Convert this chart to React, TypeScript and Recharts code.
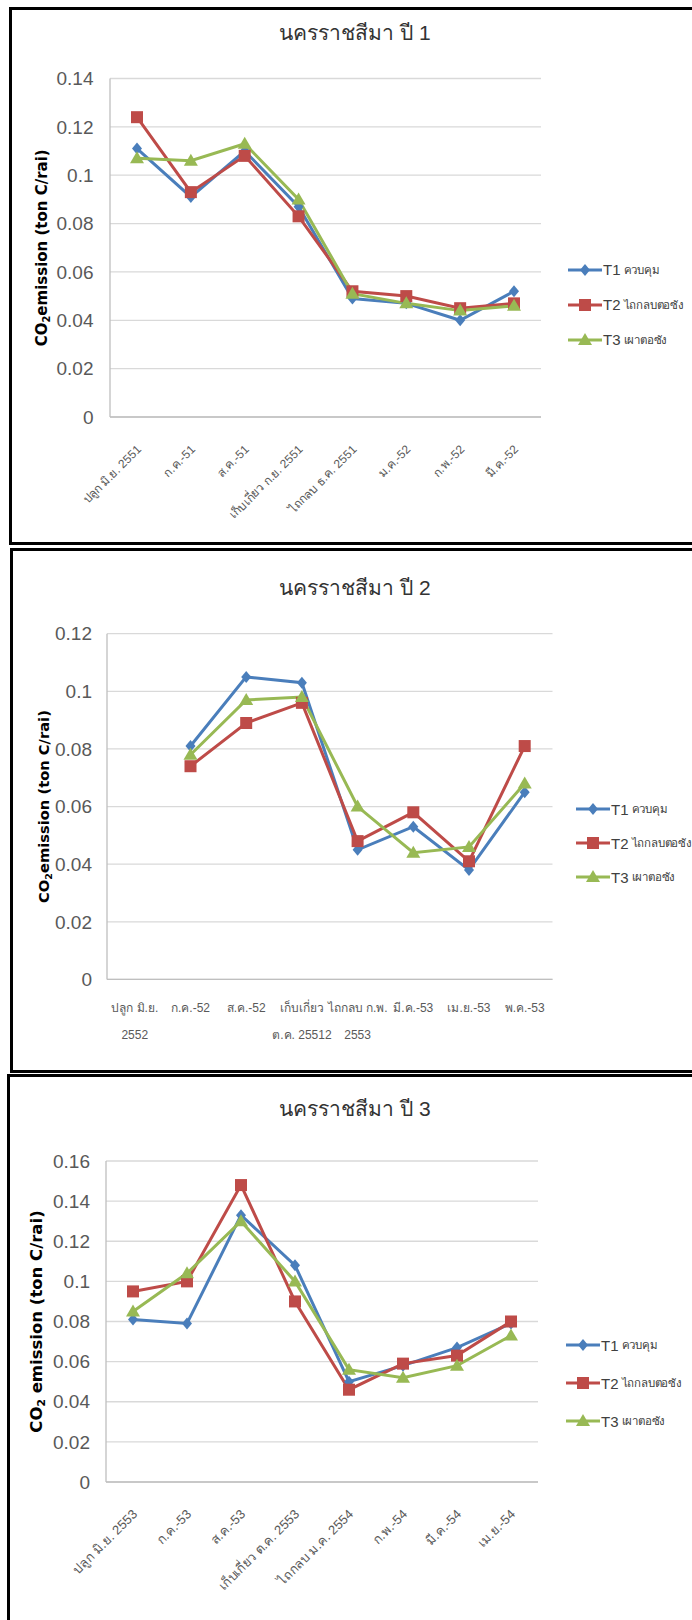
import React from "react";
import { LineChart, Line, XAxis, YAxis, CartesianGrid, Legend, Label } from "recharts";

// ---- data ----
const seriesNames = ["T1 ควบคุม", "T2 ไถกลบตอซัง", "T3 เผาตอซัง"];

const year1Labels = ["ปลูก มิ.ย. 2551", "ก.ค.-51", "ส.ค.-51", "เก็บเกี่ยว ก.ย. 2551", "ไถกลบ ธ.ค. 2551", "ม.ค.-52", "ก.พ.-52", "มี.ค.-52"];
const year1T1 = [0.111, 0.091, 0.110, 0.087, 0.049, 0.047, 0.040, 0.052];
const year1T2 = [0.124, 0.093, 0.108, 0.083, 0.052, 0.050, 0.045, 0.047];
const year1T3 = [0.107, 0.106, 0.113, 0.090, 0.051, 0.047, 0.044, 0.046];
const year1Ticks = [0, 0.02, 0.04, 0.06, 0.08, 0.1, 0.12, 0.14];

const year2Labels = ["ปลูก มิ.ย.\n2552", "ก.ค.-52", "ส.ค.-52", "เก็บเกี่ยว\nต.ค. 25512", "ไถกลบ ก.พ.\n2553", "มี.ค.-53", "เม.ย.-53", "พ.ค.-53"];
const year2T1 = [null, 0.081, 0.105, 0.103, 0.045, 0.053, 0.038, 0.065];
const year2T2 = [null, 0.074, 0.089, 0.096, 0.048, 0.058, 0.041, 0.081];
const year2T3 = [null, 0.078, 0.097, 0.098, 0.060, 0.044, 0.046, 0.068];
const year2Ticks = [0, 0.02, 0.04, 0.06, 0.08, 0.1, 0.12];

const year3Labels = ["ปลูก มิ.ย. 2553", "ก.ค.-53", "ส.ค.-53", "เก็บเกี่ยว ต.ค. 2553", "ไถกลบ ม.ค. 2554", "ก.พ.-54", "มี.ค.-54", "เม.ย.-54"];
const year3T1 = [0.081, 0.079, 0.133, 0.108, 0.050, 0.058, 0.067, 0.079];
const year3T2 = [0.095, 0.100, 0.148, 0.090, 0.046, 0.059, 0.063, 0.080];
const year3T3 = [0.085, 0.104, 0.130, 0.100, 0.056, 0.052, 0.058, 0.073];
const year3Ticks = [0, 0.02, 0.04, 0.06, 0.08, 0.1, 0.12, 0.14, 0.16];

const COLORS = ["#4a7ebb", "#be4b48", "#98b954"];
const NARROW = "'Liberation Sans Narrow', 'Liberation Sans', 'DejaVu Sans', sans-serif";

function makeRows(labels: string[], a: (number | null)[], b: (number | null)[], c: (number | null)[]) {
  return labels.map((label, i) => ({ label, t1: a[i], t2: b[i], t3: c[i] }));
}

function marker(i: number, cx: number, cy: number, color: string, key?: string) {
  if (i === 0)
    return <polygon key={key} points={`${cx},${cy - 6} ${cx + 5},${cy} ${cx},${cy + 6} ${cx - 5},${cy}`} fill={color} />;
  if (i === 1) return <rect key={key} x={cx - 6} y={cy - 6} width={12} height={12} fill={color} />;
  return <polygon key={key} points={`${cx},${cy - 7} ${cx + 7},${cy + 5} ${cx - 7},${cy + 5}`} fill={color} />;
}

const dotFor = (i: number) => (props: any) => {
  const { cx, cy, index } = props;
  if (cx == null || cy == null) return <g key={`e-${i}-${index}`} />;
  return marker(i, cx, cy, COLORS[i], `m-${i}-${index}`);
};

const angledTick = (size: number) => (props: any) => {
  const { x, y, payload } = props;
  const tx = x + 5;
  const ty = y + 33;
  return (
    <text x={tx} y={ty} transform={`rotate(-45 ${tx} ${ty})`} textAnchor="end" fontSize={size} fill="#595959" fontFamily={NARROW}>
      {payload.value}
    </text>
  );
};

const WrapTick = (props: any) => {
  const { x, y, payload } = props;
  const lines = String(payload.value).split("\n");
  return (
    <text x={x} y={y + 33} textAnchor="middle" fontSize={12} fill="#595959" fontFamily={NARROW}>
      {lines.map((l, k) => (
        <tspan key={k} x={x} dy={k === 0 ? 0 : 27}>{l}</tspan>
      ))}
    </text>
  );
};

interface PanelProps {
  top: number;
  height: number;
  title: string;
  titleY: number;
  rows: any[];
  ticks: number[];
  margin: { top: number; right: number; bottom: number; left: number };
  xHeight: number;
  pad: number;
  tickMargin: number;
  angled: boolean;
  tickSize: number;
  labelOffset: number;
  labelSize: number;
  labelGap: string;
  legendTop: number;
  legendLeft: number;
  rowH: number;
}

function Panel(p: PanelProps) {
  const renderLegend = (lp: any) => (
    <div style={{ fontFamily: NARROW, color: "#404040" }}>
      {(lp.payload || []).map((e: any, i: number) => {
        const [code, ...rest] = String(e.value).split(" ");
        return (
          <div key={i} style={{ display: "flex", alignItems: "center", height: p.rowH, whiteSpace: "nowrap" }}>
            <svg width={34} height={16}>
              <line x1={0} y1={8} x2={34} y2={8} stroke={e.color} strokeWidth={3} />
              {marker(i, 17, 8, e.color)}
            </svg>
            <span style={{ fontSize: 15, marginLeft: 1 }}>{code}</span>
            <span style={{ fontSize: 11.5, marginLeft: 3, letterSpacing: -0.2 }}>{rest.join(" ")}</span>
          </div>
        );
      })}
    </div>
  );

  return (
    <div style={{ position: "absolute", left: 0, top: p.top, width: 692, height: p.height }}>
      <div
        style={{
          position: "absolute",
          left: 0,
          width: 710,
          top: p.titleY - 14,
          textAlign: "center",
          fontSize: 21,
          lineHeight: "28px",
          fontWeight: 400,
          color: "#333",
          fontFamily: "'Liberation Sans', 'Noto Sans', sans-serif",
        }}
      >
        {p.title}
      </div>
      <LineChart width={692} height={p.height} data={p.rows} margin={p.margin}>
        <CartesianGrid vertical={false} stroke="#d9d9d9" strokeWidth={1.3} />
        <XAxis
          dataKey="label"
          interval={0}
          tickLine={false}
          tickSize={0}
          tickMargin={0}
          axisLine={{ stroke: "#bfbfbf", strokeWidth: 1.3 }}
          padding={{ left: p.pad, right: p.pad }}
          height={p.xHeight}
          tick={p.angled ? angledTick(p.tickSize) : WrapTick}
        />
        <YAxis
          type="number"
          domain={[0, p.ticks[p.ticks.length - 1]]}
          ticks={p.ticks}
          interval={0}
          width={60}
          tickLine={false}
          tickSize={0}
          tickMargin={p.tickMargin}
          axisLine={{ stroke: "#bfbfbf", strokeWidth: 1.3 }}
          tickFormatter={(v: number) => String(v)}
          tick={{ fill: "#595959", fontSize: 19, fontFamily: NARROW }}
        >
          <Label
            content={(lp: any) => {
              const vb = lp.viewBox || { x: 0, y: 0, width: 0, height: 0 };
              const cx = vb.x + vb.width - p.labelOffset;
              const cy = vb.y + vb.height / 2;
              return (
                <text
                  x={cx}
                  y={cy}
                  transform={`rotate(-90 ${cx} ${cy})`}
                  textAnchor="middle"
                  fontWeight="bold"
                  fontSize={p.labelSize}
                  fill="#000"
                  fontFamily="'DejaVu Sans', sans-serif"
                >
                  CO
                  <tspan fontSize={p.labelSize * 0.65} dy={3}>2</tspan>
                  <tspan dy={-3}>{p.labelGap}emission (ton C/rai)</tspan>
                </text>
              );
            }}
          />
        </YAxis>
        <Legend
          layout="vertical"
          align="center"
          verticalAlign="middle"
          wrapperStyle={{ left: p.legendLeft, top: p.legendTop, width: 125 }}
          content={renderLegend}
        />
        {["t1", "t2", "t3"].map((k, i) => (
          <Line
            key={k}
            type="linear"
            dataKey={k}
            name={seriesNames[i]}
            stroke={COLORS[i]}
            strokeWidth={3}
            dot={dotFor(i)}
            activeDot={false}
            isAnimationActive={false}
          />
        ))}
      </LineChart>
    </div>
  );
}

export default function App() {
  return (
    <div style={{ position: "absolute", left: 0, top: 0, width: 692, height: 1620, overflow: "hidden", background: "#fff" }}>
      <div style={{ position: "absolute", left: 9, top: 7, width: 720, height: 532, border: "3px solid #000" }} />
      <div style={{ position: "absolute", left: 10, top: 548, width: 720, height: 519, border: "3px solid #000" }} />
      <div style={{ position: "absolute", left: 7, top: 1074, width: 720, height: 600, border: "3px solid #000" }} />

      <Panel
        top={0}
        height={540}
        title="นครราชสีมา ปี 1"
        titleY={33}
        rows={makeRows(year1Labels, year1T1, year1T2, year1T3)}
        ticks={year1Ticks}
        margin={{ top: 78.5, right: 151, bottom: 10, left: 50 }}
        xHeight={113}
        pad={27}
        tickMargin={16.5}
        angled={true}
        tickSize={12}
        labelOffset={63}
        labelSize={15}
        labelGap=""
        legendLeft={568}
        legendTop={252}
        rowH={35}
      />
      <Panel
        top={540}
        height={530}
        title="นครราชสีมา ปี 2"
        titleY={48}
        rows={makeRows(year2Labels, year2T1, year2T2, year2T3)}
        ticks={year2Ticks}
        margin={{ top: 93.7, right: 139.5, bottom: 10, left: 47 }}
        xHeight={80.6}
        pad={27.8}
        tickMargin={15}
        angled={false}
        tickSize={12}
        labelOffset={58}
        labelSize={14.7}
        labelGap=""
        legendLeft={576}
        legendTop={252}
        rowH={34}
      />
      <Panel
        top={1070}
        height={550}
        title="นครราชสีมา ปี 3"
        titleY={38.6}
        rows={makeRows(year3Labels, year3T1, year3T2, year3T3)}
        ticks={year3Ticks}
        margin={{ top: 91, right: 154, bottom: 10, left: 46 }}
        xHeight={128}
        pad={27}
        tickMargin={16}
        angled={true}
        tickSize={13}
        labelOffset={64.5}
        labelSize={16.5}
        labelGap=" "
        legendLeft={566}
        legendTop={256}
        rowH={38}
      />
    </div>
  );
}
